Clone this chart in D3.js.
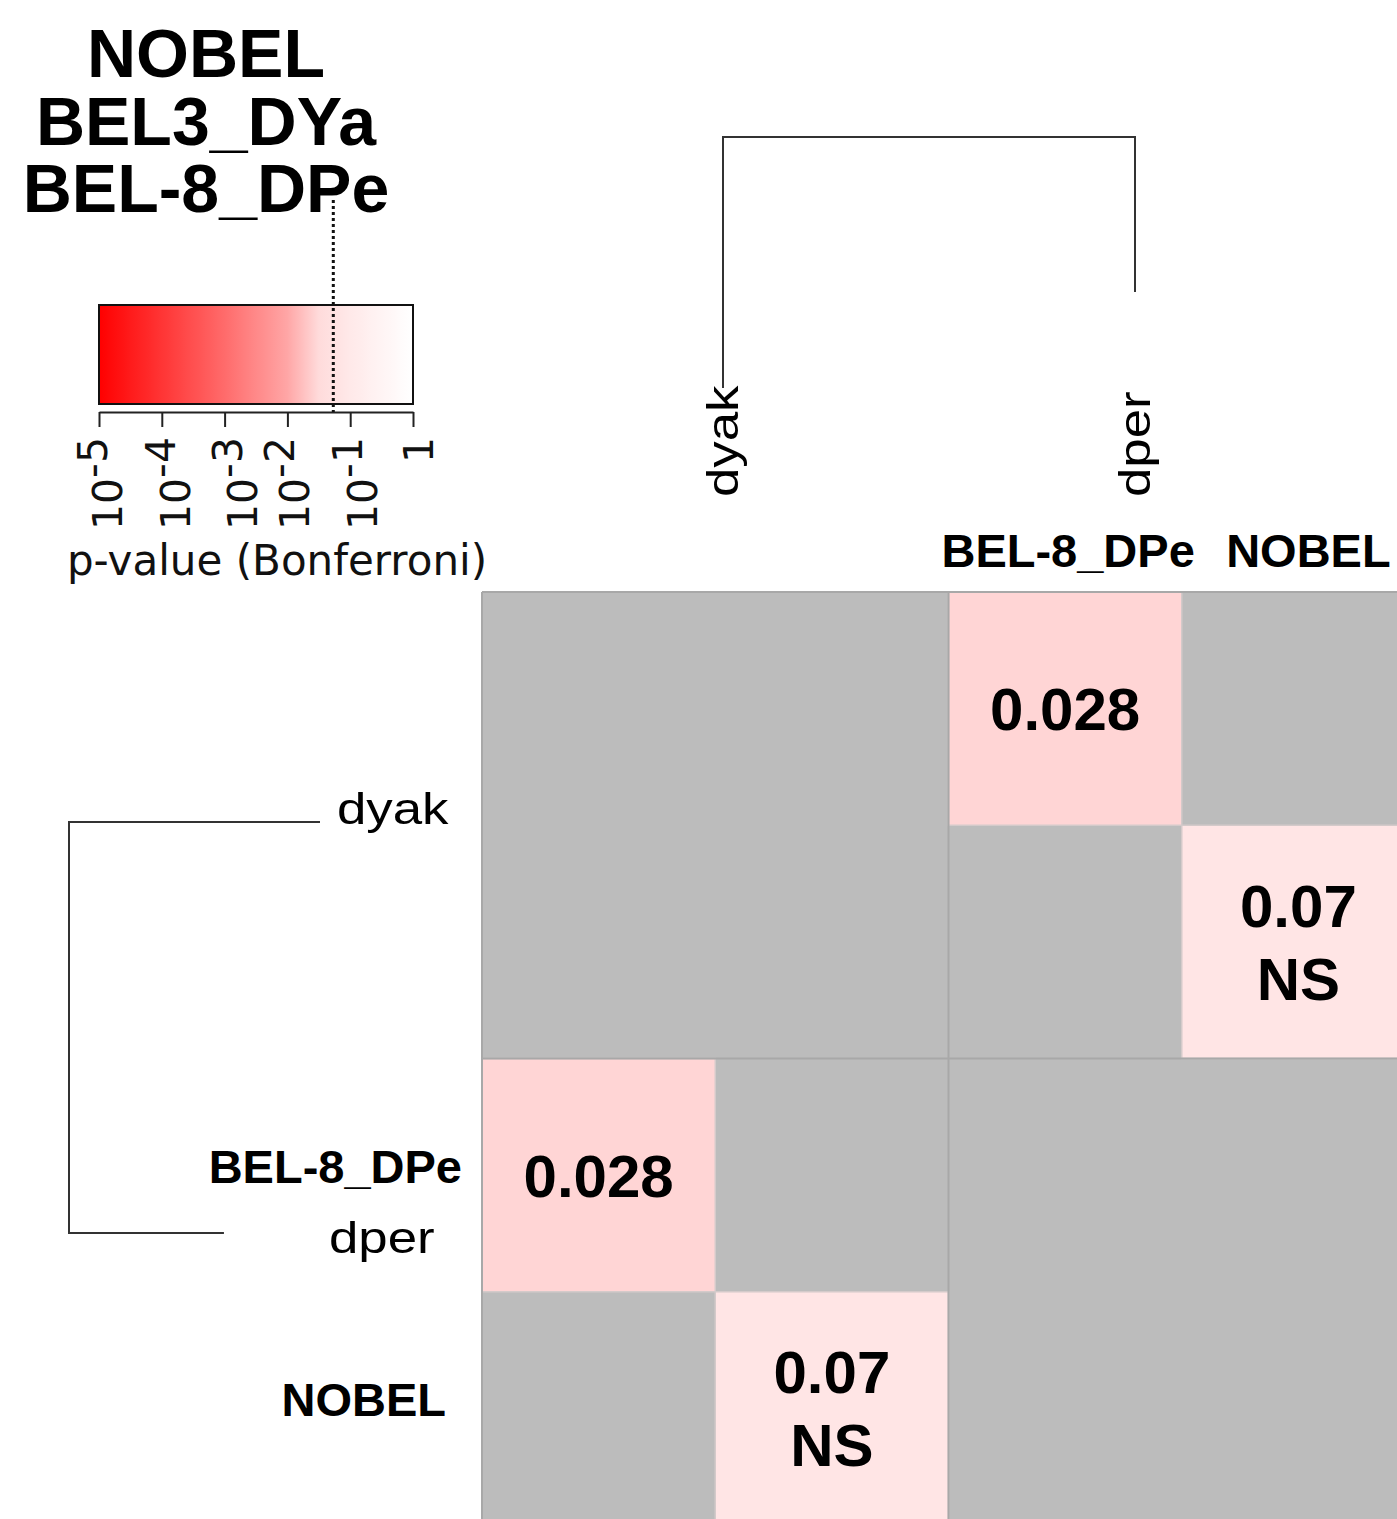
<!DOCTYPE html>
<html>
<head>
<meta charset="utf-8">
<script src="https://cdn.jsdelivr.net/npm/d3@7"></script>
<style>
  body { margin: 0; background: #fff; }
  svg { display: block; }
</style>
</head>
<body>
<div id="chart"></div>
<script>
// values
var titleLines = ["NOBEL", "BEL3_DYa", "BEL-8_DPe"];
var species = ["dyak", "dper"];
var branchLen = [1.62, 1.0];          // leaf branch lengths of the species tree
var colLabels = ["", "", "BEL-8_DPe", "NOBEL"];
var rowLabels = ["", "", "BEL-8_DPe", "NOBEL"];
var groupOf = ["dyak", "dyak", "dper", "dper"];
var hitRow = [0, 1, 2, 3];
var hitCol = [2, 3, 0, 1];
var hitP = [0.028, 0.07, 0.028, 0.07];
var hitNote = ["", "NS", "", "NS"];
var pTicks = [1e-5, 1e-4, 1e-3, 1e-2, 1e-1, 1];
var pTickText = [["10", "-5"], ["10", "-4"], ["10", "-3"], ["10", "-2"], ["10", "-1"], ["1", ""]];
var pCut = 0.05;

var W = 1397, H = 1519;
var sans = "'Liberation Sans', Arial, sans-serif";
var dejavu = "'DejaVu Sans', sans-serif";
var grey = "#bcbcbc";

var svg = d3.select("#chart").append("svg")
  .attr("width", W)
  .attr("height", H);

// colour: red -> white along log10(p)
var color = d3.scaleLinear()
  .domain([-5, -4, -3, -2, -1.5, -1, 0])
  .range(["#ff0000", "#ff3535", "#ff6b6b", "#ffa6a6", "#ffdbdb", "#ffe9e9", "#ffffff"])
  .clamp(true);
var pColor = function (p) { return color(Math.log10(p)); };

// ---- title
svg.append("g").selectAll("text")
  .data(titleLines)
  .enter().append("text")
  .attr("x", 206)
  .attr("y", function (d, i) { return 77 + i * 67.5; })
  .attr("text-anchor", "middle")
  .style("font-family", sans)
  .style("font-weight", "bold")
  .style("font-size", "68px")
  .text(function (d) { return d; });

// ---- colour key
var keyX = d3.scaleLog().domain([1e-5, 1]).range([99, 413]);
var defs = svg.append("defs");
var grad = defs.append("linearGradient").attr("id", "keygrad");
d3.range(0, 1.0001, 0.02).forEach(function (t) {
  grad.append("stop")
    .attr("offset", (t * 100) + "%")
    .attr("stop-color", color(-5 + 5 * t));
});
svg.append("rect")
  .attr("x", keyX(1e-5))
  .attr("y", 305)
  .attr("width", keyX(1) - keyX(1e-5))
  .attr("height", 99)
  .attr("fill", "url(#keygrad)")
  .attr("stroke", "#111")
  .attr("stroke-width", 2);

var keyAxis = svg.append("g")
  .attr("transform", "translate(0,412)")
  .call(d3.axisBottom(keyX).tickValues(pTicks).tickSize(15).tickSizeOuter(0).tickFormat(""));
keyAxis.selectAll("path, line").attr("stroke", "#222").attr("stroke-width", 2);

// tick labels are rotated and set as 10^k
var labelNudge = [23, 28, 32, 22, 27, 20];
var tl = svg.append("g").selectAll("text")
  .data(pTicks)
  .enter().append("text")
  .attr("transform", function (d, i) {
    return "translate(" + (keyX(d) + labelNudge[i]) + ",437) rotate(-90)";
  })
  .attr("text-anchor", "end")
  .style("font-family", dejavu)
  .style("font-size", "41px")
  .style("fill", "#111");
tl.append("tspan").text(function (d, i) { return pTickText[i][0]; });
tl.append("tspan").attr("dy", -15).text(function (d, i) { return pTickText[i][1]; });

svg.append("text")
  .attr("x", 277)
  .attr("y", 575)
  .attr("text-anchor", "middle")
  .style("font-family", dejavu)
  .style("font-size", "42px")
  .style("fill", "#111")
  .text("p-value (Bonferroni)");

svg.append("line")
  .attr("x1", keyX(pCut) + 2).attr("x2", keyX(pCut) + 2)
  .attr("y1", 200).attr("y2", 412)
  .attr("stroke", "#111")
  .attr("stroke-width", 3)
  .attr("stroke-dasharray", "3,3");

// ---- heat map grid
var idx = d3.range(colLabels.length);
var x = d3.scaleBand().domain(idx).range([482, 1415]);
var y = d3.scaleBand().domain(idx).range([592, 1525]);

var hits = hitRow.map(function (r, i) {
  return { r: r, c: hitCol[i], p: hitP[i], note: hitNote[i] };
});

// empty comparisons: one grey field underneath
svg.append("rect")
  .attr("x", x(0))
  .attr("y", y(0))
  .attr("width", x.range()[1] - x(0))
  .attr("height", y.range()[1] - y(0))
  .attr("fill", grey);

svg.append("g").selectAll("rect")
  .data(hits)
  .enter().append("rect")
  .attr("x", function (d) { return x(d.c); })
  .attr("y", function (d) { return y(d.r); })
  .attr("width", x.bandwidth())
  .attr("height", y.bandwidth())
  .attr("fill", function (d) { return pColor(d.p); })
  .attr("stroke", "#d4caca")
  .attr("stroke-width", 1.5);

// group separators (species blocks)
var starts = idx.filter(function (i) { return i === 0 || groupOf[i] !== groupOf[i - 1]; });
var sep = svg.append("g").attr("stroke", "#a8a8a8").attr("stroke-width", 2);
starts.forEach(function (i) {
  sep.append("line").attr("x1", x(i)).attr("x2", x(i)).attr("y1", y(0)).attr("y2", 1525);
  sep.append("line").attr("x1", x(0)).attr("x2", 1415).attr("y1", y(i)).attr("y2", y(i));
});

// cell values
var vt = svg.append("g").selectAll("text")
  .data(hits)
  .enter().append("text")
  .attr("text-anchor", "middle")
  .style("font-family", sans)
  .style("font-weight", "bold")
  .style("font-size", "60px");
vt.each(function (d) {
  var lines = [String(d.p)];
  if (d.note) lines.push(d.note);
  var cy = y(d.r) + y.bandwidth() / 2 + 21.5 - (lines.length - 1) * 36.5;
  d3.select(this).selectAll("tspan")
    .data(lines)
    .enter().append("tspan")
    .attr("x", x(d.c) + x.bandwidth() / 2)
    .attr("y", function (l, k) { return cy + k * 73; })
    .text(function (l) { return l; });
});

// column / row labels
svg.append("g").selectAll("text")
  .data(idx)
  .enter().append("text")
  .attr("x", function (i) { return x(i) + x.bandwidth() / 2 + (i === 3 ? 10 : 3); })
  .attr("y", 567)
  .attr("text-anchor", "middle")
  .style("font-family", sans)
  .style("font-weight", "bold")
  .style("font-size", "47px")
  .text(function (i) { return colLabels[i]; });

svg.append("g").selectAll("text")
  .data(idx)
  .enter().append("text")
  .attr("x", function (i) { return i === 3 ? 446 : 462; })
  .attr("y", function (i) { return y(i) + y.bandwidth() / 2 + 8; })
  .attr("text-anchor", "end")
  .style("font-family", sans)
  .style("font-weight", "bold")
  .style("font-size", "47px")
  .text(function (i) { return rowLabels[i]; });

// ---- species dendrograms
var lenMax = d3.max(branchLen);
var topLeaf = d3.scalePoint().domain(species).range([723, 1135]);
var topH = d3.scaleLinear().domain([0, lenMax]).range([137, 388]);
var leftLeaf = d3.scalePoint().domain(species).range([822, 1233]);
var leftH = d3.scaleLinear().domain([0, lenMax]).range([69, 320]);
var leftLab = d3.scalePoint().domain(species).range([824, 1253]);

var dend = svg.append("g")
  .attr("fill", "none")
  .attr("stroke", "#333")
  .attr("stroke-width", 2);

dend.append("path").attr("d",
  "M" + topLeaf(species[0]) + "," + topH(branchLen[0]) +
  "V" + topH(0) + "H" + topLeaf(species[1]) + "V" + topH(branchLen[1]));
dend.append("path").attr("d",
  "M" + leftH(branchLen[0]) + "," + leftLeaf(species[0]) +
  "H" + leftH(0) + "V" + leftLeaf(species[1]) + "H" + leftH(branchLen[1]));

svg.append("g").selectAll("text")
  .data(species)
  .enter().append("text")
  .attr("transform", function (d) {
    return "translate(" + (topLeaf(d) + 15) + ",497) rotate(-90) scale(1.2,1)";
  })
  .style("font-family", sans)
  .style("font-size", "44px")
  .text(function (d) { return d; });

svg.append("g").selectAll("text")
  .data(species)
  .enter().append("text")
  .attr("transform", function (d, i) {
    return "translate(" + (i === 0 ? 337 : 329) + "," + leftLab(d) + ") scale(1.2,1)";
  })
  .style("font-family", sans)
  .style("font-size", "44px")
  .text(function (d) { return d; });
</script>
</body>
</html>
